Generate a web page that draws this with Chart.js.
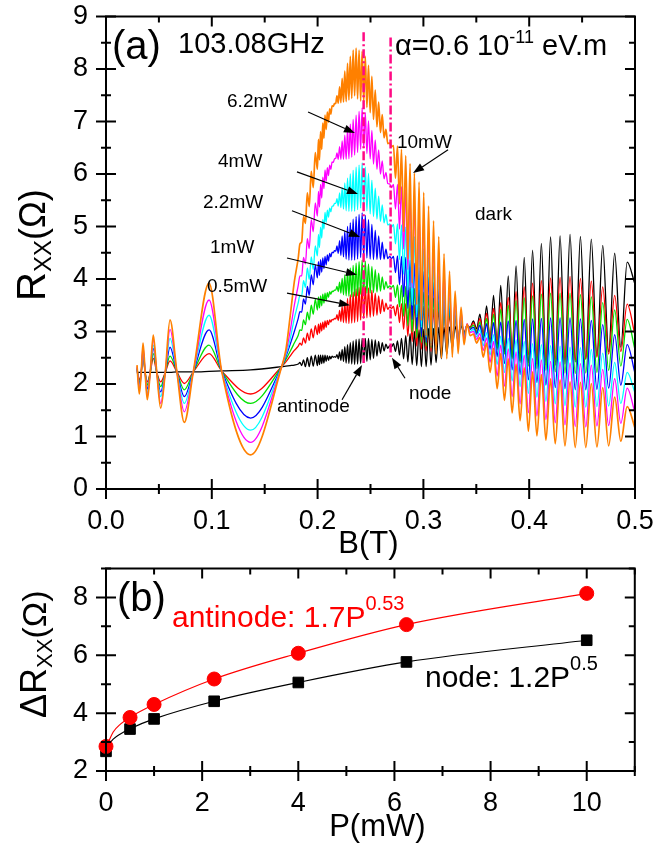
<!DOCTYPE html>
<html>
<head>
<meta charset="utf-8">
<script src="https://cdn.jsdelivr.net/npm/chart.js@4.4.1/dist/chart.umd.min.js"></script>
<style>
  html, body { margin: 0; padding: 0; background: #fff; }
  #page { position: relative; width: 655px; height: 852px; }
  canvas { position: absolute; left: 0; }
  #chartA { top: 0; }
  #chartB { top: 560px; }
</style>
</head>
<body>
<div id="page">
  <canvas id="chartA" width="655" height="560"></canvas>
  <canvas id="chartB" width="655" height="292"></canvas>
</div>
<script>
const FONT = "'Liberation Sans', Arial, Helvetica, sans-serif";

// ---- panel (a): magnetic field grid shared by all traces ----
// low field: MIRO extrema and crossings; high field: SdH extrema
const bField = [
  0.0293,0.0315,0.0333,0.0350,0.0370,0.0390,0.0418,0.0447,0.0480,0.0517,0.0560,0.0605,0.0670,0.0740,0.0825,0.0974,0.1093,0.1367,0.1660,
  0.170,0.174,0.178,
  0.1817,0.1833,0.1850,0.1867,0.1885,0.1903,0.1921,0.1940,0.1959,0.1978,
  0.1998,0.2008,0.2018,0.2028,0.2039,0.2049,0.2060,0.2070,0.2081,0.2092,
  0.2103,0.2114,0.2125,0.2137,0.2148,0.2160,0.2172,0.2183,0.2195,0.2208,
  0.2220,0.2232,0.2245,0.2257,0.2270,0.2283,0.2296,0.2309,0.2323,0.2336,
  0.2350,0.2364,0.2378,0.2392,0.2407,0.2421,0.2436,0.2451,0.2466,0.2481,
  0.2497,0.2513,0.2528,0.2545,0.2561,0.2577,0.2594,0.2611,0.2628,0.2646,
  0.2663,0.2681,0.2699,0.2717,0.2736,0.2755,0.2774,0.2793,0.2813,0.2833,
  0.2853,0.2874,0.2894,0.2915,0.2937,0.2959,0.2981,0.3003,0.3026,0.3049,
  0.3072,0.3096,0.3120,0.3145,0.3170,0.3195,0.3221,0.3247,0.3273,0.3300,
  0.3328,0.3356,0.3384,0.3413,0.3442,0.3472,0.3503,0.3534,0.3565,0.3597,
  0.3630,0.3663,0.3697,0.3731,0.3766,0.3802,0.3839,0.3876,0.3914,0.3953,
  0.3992,0.4032,0.4073,0.4115,0.4158,0.4202,0.4246,0.4292,0.4338,0.4386,
  0.4435,0.4484,0.4535,0.4587,0.4640,0.4695,0.4751,0.4808,0.4866,0.4926,
  0.5000
];

const rDark = [
  2.22,2.22,2.22,2.22,2.22,2.22,2.22,2.22,2.22,2.22,2.22,2.22,2.23,2.23,2.23,2.24,2.25,2.27,2.33,
  2.34,2.35,2.36,
  2.38,2.41,2.35,2.46,2.33,2.50,2.33,2.53,2.34,2.55,
  2.35,2.55,2.37,2.55,2.39,2.55,2.40,2.55,2.43,2.54,
  2.45,2.53,2.48,2.53,2.51,2.52,2.51,2.56,2.48,2.61,
  2.45,2.66,2.43,2.71,2.40,2.75,2.39,2.79,2.38,2.82,
  2.37,2.85,2.38,2.86,2.39,2.87,2.41,2.87,2.43,2.87,
  2.46,2.85,2.49,2.84,2.53,2.81,2.58,2.79,2.63,2.76,
  2.68,2.73,2.71,2.77,2.62,2.82,2.55,2.87,2.48,2.92,
  2.42,2.96,2.37,3.00,2.35,3.03,2.33,3.04,2.33,3.06,
  2.36,3.06,2.41,3.08,2.48,3.08,2.57,3.09,2.69,3.10,
  2.82,3.11,2.95,3.10,3.08,3.20,3.05,3.33,2.92,3.49,
  2.81,3.69,2.70,3.88,2.60,4.06,2.51,4.25,2.44,4.41,
  2.40,4.55,2.38,4.68,2.36,4.80,2.36,4.82,2.38,4.85,
  2.42,4.81,2.47,4.76,2.53,4.64,2.61,4.49,2.70,4.32,
  3.90
];
const r05mW = [
  2.28,2.08,2.22,2.49,2.22,2.04,2.22,2.49,2.22,2.04,2.22,2.44,2.23,2.01,2.23,2.58,2.25,1.81,2.33,
  2.42,2.53,2.64,
  2.72,2.78,2.74,2.88,2.78,2.97,2.83,3.05,2.88,3.11,
  2.94,3.14,2.97,3.16,3.01,3.18,3.04,3.20,3.08,3.21,
  3.13,3.22,3.18,3.23,3.22,3.25,3.24,3.32,3.21,3.40,
  3.19,3.48,3.17,3.56,3.16,3.63,3.15,3.70,3.16,3.75,
  3.17,3.81,3.19,3.84,3.22,3.88,3.25,3.86,3.26,3.83,
  3.27,3.79,3.29,3.73,3.31,3.68,3.34,3.61,3.38,3.54,
  3.42,3.47,3.44,3.48,3.30,3.51,3.17,3.53,3.04,3.53,
  2.91,3.52,2.81,3.51,2.72,3.49,2.66,3.48,2.63,3.45,
  2.62,3.42,2.64,3.40,2.68,3.36,2.74,3.31,2.81,3.25,
  2.89,3.19,2.98,3.12,3.07,3.17,3.00,3.25,2.93,3.35,
  2.87,3.44,2.80,3.55,2.73,3.65,2.67,3.76,2.61,3.85,
  2.56,3.92,2.53,3.97,2.50,4.02,2.48,4.03,2.47,4.05,
  2.46,4.01,2.48,3.96,2.51,3.85,2.57,3.69,2.62,3.52,
  2.93
];
const r1mW = [
  2.29,2.03,2.22,2.55,2.22,1.98,2.22,2.58,2.22,1.95,2.22,2.53,2.23,1.89,2.23,2.74,2.25,1.63,2.33,
  2.47,2.62,2.78,
  2.93,3.03,3.02,3.22,3.13,3.37,3.22,3.50,3.33,3.61,
  3.41,3.66,3.45,3.68,3.49,3.71,3.54,3.73,3.59,3.74,
  3.65,3.76,3.71,3.77,3.76,3.79,3.79,3.86,3.76,3.94,
  3.73,4.01,3.70,4.08,3.68,4.15,3.67,4.21,3.66,4.26,
  3.67,4.30,3.68,4.33,3.71,4.36,3.73,4.34,3.73,4.29,
  3.73,4.24,3.74,4.18,3.75,4.11,3.77,4.04,3.80,3.95,
  3.83,3.87,3.84,3.88,3.65,3.89,3.47,3.88,3.29,3.86,
  3.11,3.84,2.99,3.82,2.88,3.79,2.79,3.75,2.72,3.69,
  2.69,3.64,2.69,3.57,2.71,3.50,2.75,3.41,2.80,3.30,
  2.85,3.21,2.95,3.12,3.06,3.12,2.98,3.18,2.87,3.25,
  2.77,3.33,2.66,3.42,2.57,3.50,2.48,3.59,2.41,3.64,
  2.34,3.68,2.29,3.71,2.26,3.73,2.23,3.73,2.21,3.73,
  2.20,3.70,2.21,3.66,2.22,3.55,2.26,3.41,2.34,3.23,
  2.65
];
const r22mW = [
  2.30,1.98,2.22,2.62,2.22,1.90,2.22,2.68,2.22,1.85,2.22,2.70,2.23,1.76,2.23,3.03,2.25,1.35,2.33,
  2.52,2.75,3.00,
  3.25,3.38,3.37,3.62,3.52,3.86,3.69,4.08,3.89,4.27,
  4.02,4.33,4.07,4.37,4.13,4.40,4.20,4.43,4.27,4.46,
  4.34,4.49,4.42,4.51,4.50,4.54,4.53,4.63,4.49,4.73,
  4.45,4.82,4.42,4.91,4.38,5.00,4.36,5.07,4.36,5.14,
  4.36,5.19,4.38,5.23,4.41,5.26,4.43,5.21,4.40,5.13,
  4.38,5.04,4.37,4.93,4.37,4.82,4.37,4.70,4.38,4.57,
  4.39,4.43,4.39,4.43,4.12,4.44,3.89,4.43,3.66,4.41,
  3.44,4.36,3.23,4.30,3.05,4.22,2.90,4.14,2.79,4.04,
  2.72,3.94,2.68,3.81,2.66,3.67,2.67,3.53,2.72,3.36,
  2.79,3.25,2.91,3.13,3.04,3.08,2.95,3.12,2.82,3.15,
  2.66,3.17,2.52,3.18,2.39,3.20,2.27,3.21,2.18,3.23,
  2.08,3.24,2.03,3.25,1.98,3.26,1.93,3.26,1.91,3.26,
  1.89,3.24,1.89,3.21,1.90,3.13,1.92,2.94,1.98,2.75,
  2.20
];
const r4mW = [
  2.31,1.93,2.22,2.66,2.22,1.82,2.22,2.74,2.22,1.76,2.22,2.87,2.23,1.63,2.23,3.31,2.25,1.12,2.33,
  2.55,2.85,3.25,
  3.55,3.69,3.68,3.97,3.84,4.21,3.99,4.42,4.18,4.63,
  4.44,4.85,4.60,4.99,4.78,5.13,4.95,5.27,5.08,5.31,
  5.18,5.35,5.28,5.39,5.39,5.44,5.44,5.53,5.39,5.64,
  5.36,5.74,5.33,5.83,5.30,5.92,5.29,6.00,5.29,6.07,
  5.29,6.13,5.32,6.17,5.35,6.21,5.37,6.13,5.30,6.01,
  5.24,5.88,5.19,5.73,5.14,5.58,5.10,5.41,5.07,5.23,
  5.03,5.05,4.99,5.04,4.67,5.05,4.37,5.03,4.09,4.99,
  3.79,4.90,3.50,4.81,3.27,4.70,3.08,4.58,2.89,4.41,
  2.78,4.25,2.69,4.06,2.64,3.86,2.61,3.65,2.65,3.43,
  2.73,3.29,2.87,3.13,3.00,3.04,2.90,3.03,2.73,2.98,
  2.55,2.94,2.37,2.91,2.22,2.87,2.06,2.84,1.95,2.81,
  1.82,2.77,1.75,2.75,1.67,2.73,1.62,2.72,1.59,2.70,
  1.56,2.69,1.56,2.66,1.57,2.59,1.58,2.41,1.63,2.22,
  1.83
];
const r62mW = [
  2.33,1.88,2.22,2.71,2.22,1.76,2.22,2.84,2.22,1.63,2.22,3.04,2.23,1.47,2.23,3.60,2.25,0.89,2.33,
  2.60,3.00,3.50,
  3.88,4.06,4.06,4.41,4.29,4.77,4.58,5.13,4.90,5.45,
  5.20,5.67,5.37,5.80,5.54,5.94,5.72,6.08,5.86,6.12,
  5.97,6.17,6.09,6.23,6.22,6.29,6.30,6.40,6.28,6.52,
  6.28,6.63,6.28,6.74,6.28,6.85,6.29,6.95,6.32,7.04,
  6.36,7.12,6.41,7.19,6.47,7.26,6.50,7.17,6.39,7.01,
  6.29,6.83,6.19,6.65,6.09,6.46,6.00,6.25,5.91,6.03,
  5.82,5.81,5.74,5.80,5.33,5.80,4.95,5.76,4.57,5.70,
  4.18,5.59,3.83,5.46,3.52,5.31,3.27,5.15,3.03,4.92,
  2.87,4.69,2.74,4.45,2.66,4.18,2.62,3.91,2.64,3.61,
  2.69,3.38,2.84,3.15,2.98,3.00,2.85,2.96,2.64,2.88,
  2.41,2.81,2.15,2.74,1.96,2.67,1.76,2.61,1.62,2.55,
  1.45,2.49,1.39,2.46,1.32,2.43,1.26,2.42,1.22,2.40,
  1.19,2.39,1.18,2.36,1.20,2.28,1.21,2.10,1.25,1.92,
  1.45
];
const r10mW = [
  2.36,1.81,2.22,2.78,2.22,1.70,2.22,2.93,2.22,1.54,2.22,3.22,2.23,1.27,2.23,3.92,2.25,0.65,2.33,
  2.65,3.28,3.95,
  4.40,4.67,4.71,5.19,5.06,5.64,5.38,6.05,5.74,6.41,
  6.09,6.66,6.27,6.81,6.47,6.97,6.68,7.12,6.85,7.18,
  6.99,7.24,7.14,7.30,7.29,7.34,7.35,7.49,7.35,7.66,
  7.36,7.82,7.37,7.96,7.38,8.11,7.41,8.24,7.44,8.36,
  7.49,8.40,7.43,8.36,7.39,8.34,7.37,8.24,7.27,8.07,
  7.17,7.86,7.04,7.60,6.90,7.37,6.79,7.13,6.69,6.85,
  6.58,6.59,6.52,6.54,5.92,6.53,5.43,6.47,4.90,6.35,
  4.38,6.20,3.92,6.02,3.51,5.85,3.21,5.65,2.92,5.39,
  2.72,5.11,2.57,4.81,2.49,4.48,2.48,4.15,2.51,3.77,
  2.58,3.46,2.75,3.14,2.92,2.95,2.78,2.89,2.51,2.78,
  2.22,2.68,1.91,2.58,1.69,2.48,1.45,2.38,1.30,2.31,
  1.10,2.23,1.01,2.18,0.93,2.10,0.86,2.08,0.82,2.04,
  0.79,2.03,0.79,2.01,0.80,1.93,0.82,1.75,0.91,1.57,
  1.16
];

const traceNames  = ['dark', '0.5mW', '1mW', '2.2mW', '4mW', '6.2mW', '10mW'];
const traceValues = [rDark, r05mW, r1mW, r22mW, r4mW, r62mW, r10mW];
const traceColors = ['#000000', '#ff0000', '#00e000', '#0000ff', '#00ffff', '#ff00ff', '#ff8000'];

// ---- panel (b) ----
const power      = [0, 0.5, 1, 2.25, 4, 6.25, 10];
const antinodeDR = [2.85, 3.85, 4.30, 5.18, 6.07, 7.06, 8.14];
const nodeDR     = [2.68, 3.45, 3.80, 4.41, 5.06, 5.77, 6.52];
const fitP        = [0.05, 0.15, 0.3, 0.5, 1, 2.25, 4, 6.25, 10];
const antinodeFit = [3.00, 3.35, 3.62, 3.86, 4.30, 5.18, 6.07, 7.06, 8.14];
const nodeFit     = [2.90, 3.10, 3.28, 3.46, 3.80, 4.41, 5.06, 5.77, 6.52];

// annotation positions (data units of panel a)
const powerLabels = [
  { t: '6.2mW', b: 0.1144, r: 7.37 }, { t: '4mW', b: 0.1059, r: 6.23 },
  { t: '2.2mW', b: 0.0917, r: 5.45 }, { t: '1mW', b: 0.0983, r: 4.59 },
  { t: '0.5mW', b: 0.0955, r: 3.85 }, { t: '10mW', b: 0.2750, r: 6.59 },
  { t: 'dark', b: 0.3488, r: 5.22 }, { t: 'antinode', b: 0.1616, r: 1.56 },
  { t: 'node', b: 0.2864, r: 1.81 }
];
const arrowsA = [
  [0.191, 7.18, 0.2353, 6.78], [0.1805, 6.04, 0.2382, 5.62], [0.1758, 5.30, 0.2401, 4.80],
  [0.1711, 4.40, 0.2372, 4.08], [0.1711, 3.73, 0.2306, 3.50], [0.3233, 6.46, 0.2902, 6.02],
  [0.2231, 1.70, 0.2420, 2.36], [0.2826, 2.11, 0.2703, 2.50]
];
const markerLines = [[0.2435, 8.70, 2.40], [0.2690, 8.60, 2.52]];

function toPts(xs, ys) { return xs.map((x, i) => ({ x: x, y: ys[i] })); }

function arrow(ctx, x1, y1, x2, y2) {
  const ang = Math.atan2(y2 - y1, x2 - x1), L = 11, W = 4;
  ctx.beginPath(); ctx.moveTo(x1, y1); ctx.lineTo(x2 - L * Math.cos(ang), y2 - L * Math.sin(ang)); ctx.stroke();
  ctx.beginPath();
  ctx.moveTo(x2, y2);
  ctx.lineTo(x2 - L * Math.cos(ang) + W * Math.sin(ang), y2 - L * Math.sin(ang) - W * Math.cos(ang));
  ctx.lineTo(x2 - L * Math.cos(ang) - W * Math.sin(ang), y2 - L * Math.sin(ang) + W * Math.cos(ang));
  ctx.closePath(); ctx.fill();
}

// draws text pieces one after another: [text, size, dy]
function runs(ctx, x, y, parts) {
  parts.forEach(p => {
    ctx.font = p[1] + 'px ' + FONT;
    ctx.fillText(p[0], x, y + (p[2] || 0));
    x += ctx.measureText(p[0]).width;
  });
}

function frameAndTicks(chart, ax, ay) {
  const ctx = chart.ctx, a = chart.chartArea, sx = chart.scales.x, sy = chart.scales.y;
  ctx.save();
  ctx.strokeStyle = '#000'; ctx.lineWidth = 2;
  ctx.strokeRect(a.left, a.top, a.right - a.left, a.bottom - a.top);
  ctx.beginPath();
  for (let v = ax.min; v <= ax.max + 1e-9; v += ax.minor) {
    const major = Math.abs(v / ax.major - Math.round(v / ax.major)) < 1e-6;
    const px = sx.getPixelForValue(v);
    const L = major ? 10 : 5;
    ctx.moveTo(px, a.bottom - L); ctx.lineTo(px, a.bottom + L);
    ctx.moveTo(px, a.top); ctx.lineTo(px, a.top + (major ? 10 : 6));
  }
  for (let v = ay.min; v <= ay.max + 1e-9; v += ay.minor) {
    const major = Math.abs(v / ay.major - Math.round(v / ay.major)) < 1e-6;
    const py = sy.getPixelForValue(v);
    const L = major ? 10 : 5;
    ctx.moveTo(a.left - L, py); ctx.lineTo(a.left + L, py);
    ctx.moveTo(a.right, py); ctx.lineTo(a.right - (major ? 10 : 6), py);
  }
  ctx.stroke();
  ctx.restore();
}

const panelA = {
  id: 'panelA',
  afterDatasetsDraw(chart) {
    const ctx = chart.ctx, sx = chart.scales.x, sy = chart.scales.y;
    ctx.save();
    ctx.strokeStyle = '#ff0a84'; ctx.lineWidth = 2.5; ctx.setLineDash([9, 3, 2, 3]);
    markerLines.forEach(m => {
      ctx.beginPath();
      ctx.moveTo(sx.getPixelForValue(m[0]), sy.getPixelForValue(m[1]));
      ctx.lineTo(sx.getPixelForValue(m[0]), sy.getPixelForValue(m[2]));
      ctx.stroke();
    });
    ctx.setLineDash([]);
    ctx.strokeStyle = '#000'; ctx.fillStyle = '#000'; ctx.lineWidth = 1.2;
    arrowsA.forEach(r => arrow(ctx, sx.getPixelForValue(r[0]), sy.getPixelForValue(r[1]),
                                   sx.getPixelForValue(r[2]), sy.getPixelForValue(r[3])));
    ctx.font = '19px ' + FONT; ctx.textBaseline = 'middle'; ctx.textAlign = 'left';
    powerLabels.forEach(l => ctx.fillText(l.t, sx.getPixelForValue(l.b), sy.getPixelForValue(l.r)));
    ctx.restore();
  },
  afterDraw(chart) {
    frameAndTicks(chart, { min: 0, max: 0.5, minor: 0.05, major: 0.1 }, { min: 0, max: 9, minor: 0.5, major: 1 });
    const ctx = chart.ctx, a = chart.chartArea;
    ctx.save();
    ctx.fillStyle = '#000'; ctx.textBaseline = 'alphabetic'; ctx.textAlign = 'left';
    runs(ctx, a.left + 6, 59, [['(a)', 40]]);
    runs(ctx, 178, 53, [['103.08GHz', 29]]);
    runs(ctx, 395, 55, [['\u03b1=0.6 10', 29], ['-11', 18, -12], [' eV.m', 29]]);
    ctx.textAlign = 'center';
    ctx.font = '31px ' + FONT;
    ctx.fillText('B(T)', (a.left + a.right) / 2 - 2, 553);
    ctx.textAlign = 'left';
    ctx.translate(45, 301); ctx.rotate(-Math.PI / 2);
    runs(ctx, 0, 0, [['R', 40], ['XX', 24, 6], ['(\u03a9)', 36]]);
    ctx.restore();
  }
};

const panelB = {
  id: 'panelB',
  afterDraw(chart) {
    frameAndTicks(chart, { min: 0, max: 11, minor: 1, major: 2 }, { min: 2, max: 9, minor: 1, major: 2 });
    const ctx = chart.ctx, a = chart.chartArea;
    ctx.save();
    ctx.textBaseline = 'alphabetic'; ctx.textAlign = 'left';
    ctx.fillStyle = '#000';
    runs(ctx, 117, 611 - 560, [['(b)', 40]]);
    ctx.fillStyle = '#ff0000';
    runs(ctx, 172, 627 - 560, [['antinode: 1.7P', 30], ['0.53', 20, -17]]);
    ctx.fillStyle = '#000';
    runs(ctx, 425, 687 - 560, [['node: 1.2P', 30], ['0.5', 20, -17]]);
    ctx.textAlign = 'center'; ctx.font = '31px ' + FONT;
    ctx.fillText('P(mW)', (a.left + a.right) / 2 + 7, 836 - 560);
    ctx.textAlign = 'left';
    ctx.translate(46, 718 - 560); ctx.rotate(-Math.PI / 2);
    runs(ctx, 0, 0, [['\u0394R', 36], ['XX', 22, 6], ['(\u03a9)', 34]]);
    ctx.restore();
  }
};

const tickFont = { family: FONT, size: 27 };
// keep the plot frame exactly where the figure has it
const fitX = h => s => { s.height = h; s.paddingLeft = 0; s.paddingRight = 0; };
const fitY = s => { s.width = 106; s.paddingTop = 0; s.paddingBottom = 0; };

new Chart(document.getElementById('chartA'), {
  type: 'line',
  data: {
    datasets: traceNames.map((name, k) => ({
      label: name,
      data: toPts(bField, traceValues[k]),
      borderColor: traceColors[k],
      borderWidth: k === 6 ? 1.7 : 1.3,
      pointRadius: 0,
      cubicInterpolationMode: 'monotone',
      order: 6 - k
    }))
  },
  options: {
    responsive: false, animation: false, devicePixelRatio: 1,
    layout: { padding: { top: 16.5, right: 20, left: 0, bottom: 0 } },
    plugins: { legend: { display: false }, tooltip: { enabled: false } },
    scales: {
      x: {
        type: 'linear', min: 0, max: 0.5,
        grid: { display: false, drawTicks: false }, border: { display: false },
        ticks: { stepSize: 0.1, color: '#000', font: tickFont, padding: 16, maxRotation: 0,
                 callback: v => v.toFixed(1) },
        afterFit: fitX(560 - 489)
      },
      y: {
        min: 0, max: 9,
        grid: { display: false, drawTicks: false }, border: { display: false },
        ticks: { stepSize: 1, color: '#000', font: tickFont, padding: 18 },
        afterFit: fitY
      }
    }
  },
  plugins: [panelA]
});

new Chart(document.getElementById('chartB'), {
  type: 'line',
  data: {
    datasets: [
      { data: toPts(power, antinodeDR), showLine: false, pointStyle: 'circle', pointRadius: 7,
        backgroundColor: '#ff0000', borderColor: '#ff0000', clip: false, order: 0 },
      { data: toPts(power, nodeDR), showLine: false, pointStyle: 'rect', pointRadius: 7.5,
        backgroundColor: '#000', borderColor: '#000', clip: false, order: 1 },
      { data: toPts(fitP, antinodeFit), borderColor: '#ff0000', borderWidth: 1.2, pointRadius: 0,
        cubicInterpolationMode: 'monotone', order: 2 },
      { data: toPts(fitP, nodeFit), borderColor: '#000', borderWidth: 1.2, pointRadius: 0,
        cubicInterpolationMode: 'monotone', order: 3 }
    ]
  },
  options: {
    responsive: false, animation: false, devicePixelRatio: 1,
    layout: { padding: { top: 5, right: 20.2, left: 0, bottom: 0 } },
    plugins: { legend: { display: false }, tooltip: { enabled: false } },
    scales: {
      x: {
        type: 'linear', min: 0, max: 11,
        grid: { display: false, drawTicks: false }, border: { display: false },
        ticks: { stepSize: 2, includeBounds: false, color: '#000', font: tickFont, padding: 16, maxRotation: 0 },
        afterFit: fitX(292 - 211)
      },
      y: {
        min: 2, max: 9,
        grid: { display: false, drawTicks: false }, border: { display: false },
        ticks: { stepSize: 2, includeBounds: false, color: '#000', font: tickFont, padding: 18 },
        afterFit: fitY
      }
    }
  },
  plugins: [panelB]
});
</script>
</body>
</html>
